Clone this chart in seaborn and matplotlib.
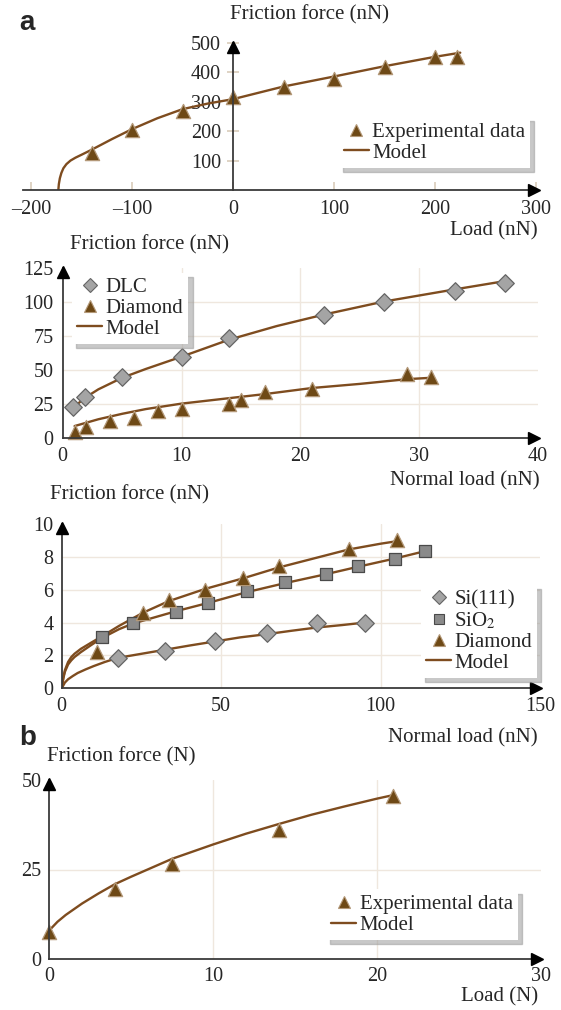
import numpy as np
import pandas as pd
import matplotlib
matplotlib.use("Agg")
import matplotlib.pyplot as plt
import matplotlib.transforms as mtransforms
from matplotlib.lines import Line2D
import seaborn as sns

# ---------------- data ----------------
# Panel a-1 : friction vs load (nN), experimental + model
a1_load = [-140, -100, -50, 0, 50, 100, 150, 200, 222]
a1_fric = [125, 205, 270, 315, 350, 377, 417, 451, 451]
a1_model_load = [-173, -172.5, -171.5, -170, -168, -165, -161, -156, -150, -140, -120, -100, -75, -50, -25, 0, 50, 100, 150, 200, 225]
a1_model_fric = [0, 20, 40, 58, 74, 88, 100, 110, 120, 137, 173, 207, 244, 275, 294, 309, 352, 386, 421, 453, 467]

# Panel a-2 : DLC / Diamond
a2_dlc_load = [0.9, 1.9, 5, 10, 14, 22, 27, 33, 37.2]
a2_dlc_fric = [23, 30, 45, 60, 74, 91, 100, 108, 114]
a2_dia_load = [1, 2, 4, 6, 8, 10, 14, 15, 17, 21, 29, 31]
a2_dia_fric = [4.5, 8, 13, 15, 20, 21.5, 25, 28.5, 34, 36, 47, 45]
a2_dlc_model_load = [1, 2, 3, 5, 7, 10, 14, 18, 22, 27, 33, 37.5]
a2_dlc_model_fric = [23.5, 30.5, 36, 44.5, 51, 60, 72.5, 82.5, 91, 100.5, 109.5, 116]
a2_dia_model_load = [1, 2, 3, 5, 7, 10, 13, 15, 17, 21, 25, 29, 31]
a2_dia_model_fric = [9, 11.5, 14, 18, 21.5, 25.5, 28.5, 30.5, 32.5, 37, 40, 43.5, 44.5]

# Panel a-3 : Si(111) / SiO2 / Diamond
a3_si_load = [17.5, 32.5, 48, 64.5, 80, 95]
a3_si_fric = [1.85, 2.3, 2.9, 3.35, 4.0, 4.0]
a3_sio2_load = [12.5, 22.5, 36, 46, 58, 70, 83, 93, 104.5, 114]
a3_sio2_fric = [3.15, 3.95, 4.65, 5.2, 5.9, 6.45, 6.95, 7.45, 7.9, 8.35]
a3_dia_load = [11, 25.5, 33.5, 45, 57, 68, 90, 105]
a3_dia_fric = [2.2, 4.6, 5.4, 6.0, 6.7, 7.45, 8.45, 9.0]
a3_si_model_load = [0, 1, 2, 3.5, 5, 7.5, 10, 13.5, 17.5, 25, 32.5, 40, 48, 56, 64.5, 72, 80, 88, 95]
a3_si_model_fric = [0, 0.35, 0.55, 0.75, 0.93, 1.15, 1.35, 1.6, 1.85, 2.1, 2.35, 2.6, 2.85, 3.1, 3.3, 3.5, 3.7, 3.85, 4.0]
a3_sio2_model_load = [0, 0.5, 1, 2, 3, 4, 6, 9, 12.5, 18, 22.5, 36, 46, 58, 70, 83, 93, 104.5, 114]
a3_sio2_model_fric = [0, 0.6, 1.0, 1.45, 1.7, 1.9, 2.2, 2.6, 3.05, 3.6, 3.95, 4.7, 5.2, 5.85, 6.4, 6.95, 7.4, 7.9, 8.35]
a3_dia_model_load = [0, 0.5, 1, 2, 3, 4, 6, 9, 12.5, 18, 25.5, 33.5, 45, 57, 68, 80, 90, 100, 105]
a3_dia_model_fric = [0, 0.65, 1.1, 1.6, 1.9, 2.1, 2.4, 2.75, 3.15, 3.8, 4.6, 5.3, 6.05, 6.7, 7.35, 7.95, 8.45, 8.8, 8.95]

# Panel b : macroscale friction (N)
b_load = [0, 4, 7.5, 14, 21]
b_fric = [7.5, 19.5, 26.5, 36, 45.5]
b_model_load = [0, 0.5, 1, 2, 3, 4, 5, 6, 7.5, 10, 12, 14, 16, 18, 20, 21]
b_model_fric = [8, 10.4, 12.3, 15.5, 18.3, 20.9, 23, 25, 28, 32, 35, 37.7, 40.3, 42.6, 44.8, 45.8]

# ticks
a1_xticks = [-200, -100, 0, 100, 200, 300]
a1_xticklabels = ["\u2013200", "\u2013100", "0", "100", "200", "300"]
a1_yticks = [100, 200, 300, 400, 500]
a2_xticks = [0, 10, 20, 30, 40]
a2_yticks = [0, 25, 50, 75, 100, 125]
a3_xticks = [0, 50, 100, 150]
a3_yticks = [0, 2, 4, 6, 8, 10]
b_xticks = [0, 10, 20, 30]
b_yticks = [0, 25, 50]

# ---------------- style ----------------
sns.set_theme(style="white")
plt.rcParams["font.family"] = ["Liberation Serif", "DejaVu Serif"]
plt.rcParams["mathtext.fontset"] = "stix"

LINE_C = "#7e4c1f"
TRI_FACE = "#6e4916"
TRI_EDGE = "#b39878"
DIA_FACE = "#a4a4a4"
DIA_EDGE = "#656565"
SQ_FACE = "#8a8a8a"
SQ_EDGE = "#4a4a4a"
AX_C = "#3a3a3a"
GRID_C = "#efe7de"
TICKMARK_C = "#d9ccba"
FS = 15
TFS = 14.5

W, H = 561, 1010
fig = plt.figure(figsize=(W / 100, H / 100), dpi=100)
fig.patch.set_facecolor("white")


def px_axes(x0, x1, y_top, y_bot):
    return fig.add_axes([x0 / W, 1 - y_bot / H, (x1 - x0) / W, (y_bot - y_top) / H])


def ftext(x, y, s, ha="left", **kw):
    fig.text(x / W, 1 - y / H, s, ha=ha, va="center", fontsize=FS, **kw)


def arrows(ax, x0, y0):
    ty = mtransforms.offset_copy(ax.get_xaxis_transform(), fig=fig, x=0, y=-4, units="dots")
    ax.plot([x0], [1], marker="^", color="black", markersize=8, transform=ty, clip_on=False, zorder=6)
    tx = mtransforms.offset_copy(ax.get_yaxis_transform(), fig=fig, x=-4, y=0, units="dots")
    ax.plot([1], [y0], marker=">", color="black", markersize=8, transform=tx, clip_on=False, zorder=6)


def base_style(ax):
    ax.set_facecolor("none")
    for s in ["top", "right"]:
        ax.spines[s].set_visible(False)
    for s in ["left", "bottom"]:
        ax.spines[s].set_color(AX_C)
        ax.spines[s].set_linewidth(1.3)
        ax.spines[s].set_zorder(5)
    ax.set_xlabel("")
    ax.set_ylabel("")


def grid_lines(ax, xticks, yticks):
    for x in xticks[1:-1]:
        ax.axvline(x, color=GRID_C, lw=1.0, zorder=0)
    for y in yticks[1:-1]:
        ax.axhline(y, color=GRID_C, lw=1.0, zorder=0)


def model(ax, x, y):
    sns.lineplot(x=x, y=y, ax=ax, color=LINE_C, linewidth=1.7, estimator=None,
                 sort=False, legend=False, zorder=2)


def points(ax, x, y, kind):
    if kind == "tri":
        kw = dict(marker="^", s=105, color=TRI_FACE, edgecolor=TRI_EDGE, linewidth=0.9)
    elif kind == "dia":
        kw = dict(marker="D", s=80, color=DIA_FACE, edgecolor=DIA_EDGE, linewidth=0.9)
    else:
        kw = dict(marker="s", s=70, color=SQ_FACE, edgecolor=SQ_EDGE, linewidth=0.9)
    sns.scatterplot(x=x, y=y, ax=ax, legend=False, zorder=3, clip_on=False, **kw)


def handle(kind):
    if kind == "tri":
        return Line2D([], [], ls="none", marker="^", markersize=8, markerfacecolor=TRI_FACE,
                      markeredgecolor=TRI_EDGE, markeredgewidth=0.8)
    if kind == "dia":
        return Line2D([], [], ls="none", marker="D", markersize=7, markerfacecolor=DIA_FACE,
                      markeredgecolor=DIA_EDGE, markeredgewidth=0.8)
    if kind == "sq":
        return Line2D([], [], ls="none", marker="s", markersize=6.5, markerfacecolor=SQ_FACE,
                      markeredgecolor=SQ_EDGE, markeredgewidth=0.8)
    return Line2D([], [], color=LINE_C, lw=1.7)


def legend(ax, kinds, labels, loc, anchor):
    leg = ax.legend([handle(k) for k in kinds], labels, loc=loc, bbox_to_anchor=anchor,
                    frameon=True, fancybox=False,
                    shadow={"ox": 3, "oy": -3, "color": "#9c9c9c", "alpha": 0.55},
                    fontsize=FS, handlelength=1.2, handletextpad=0.15, labelspacing=0.05,
                    borderpad=0.25, borderaxespad=0)
    fr = leg.get_frame()
    fr.set_facecolor("white")
    fr.set_edgecolor("none")
    leg.set_zorder(10)
    return leg


# ---------------- panel a-1 ----------------
ax1 = px_axes(23, 538, 43, 190)
model(ax1, a1_model_load, a1_model_fric)
points(ax1, a1_load, a1_fric, "tri")
base_style(ax1)
ax1.set_xlim(-208, 302)
ax1.set_ylim(0, 500)
ax1.spines["left"].set_position(("data", 0))
ax1.spines["bottom"].set_position(("data", 0))
ax1.set_xticks(a1_xticks)
ax1.set_xticklabels(a1_xticklabels)
ax1.set_yticks(a1_yticks)
ax1.set_yticklabels([str(v) for v in a1_yticks])
ax1.tick_params(axis="x", direction="in", length=6, width=1.2, color=TICKMARK_C,
                labelsize=TFS, pad=7, bottom=True)
ax1.tick_params(axis="y", direction="inout", length=9, width=1.2, color=TICKMARK_C,
                labelsize=TFS, pad=4, left=True)
arrows(ax1, 0, 0)
legend(ax1, ["tri", "line"], ["Experimental data", "Model"], "lower right", (0.985, 0.15))

# ---------------- panel a-2 ----------------
ax2 = px_axes(62.7, 538, 268.3, 438.3)
grid_lines(ax2, a2_xticks, a2_yticks)
model(ax2, a2_dlc_model_load, a2_dlc_model_fric)
model(ax2, a2_dia_model_load, a2_dia_model_fric)
points(ax2, a2_dlc_load, a2_dlc_fric, "dia")
points(ax2, a2_dia_load, a2_dia_fric, "tri")
base_style(ax2)
ax2.set_xlim(0, 40)
ax2.set_ylim(0, 125)
ax2.set_xticks(a2_xticks)
ax2.set_yticks(a2_yticks)
ax2.tick_params(length=0, labelsize=TFS, pad=6.5)
arrows(ax2, 0, 0)
legend(ax2, ["dia", "tri", "line"], ["DLC", "Diamond", "Model"], "upper left", (0.02, 0.975))

# ---------------- panel a-3 ----------------
ax3 = px_axes(61.7, 540, 524, 688.3)
grid_lines(ax3, a3_xticks, a3_yticks)
model(ax3, a3_si_model_load, a3_si_model_fric)
model(ax3, a3_sio2_model_load, a3_sio2_model_fric)
model(ax3, a3_dia_model_load, a3_dia_model_fric)
points(ax3, a3_si_load, a3_si_fric, "dia")
points(ax3, a3_sio2_load, a3_sio2_fric, "sq")
points(ax3, a3_dia_load, a3_dia_fric, "tri")
base_style(ax3)
ax3.set_xlim(0, 150)
ax3.set_ylim(0, 10)
ax3.set_xticks(a3_xticks)
ax3.set_yticks(a3_yticks)
ax3.tick_params(length=0, labelsize=TFS, pad=6)
arrows(ax3, 0, 0)
legend(ax3, ["dia", "sq", "tri", "line"], ["Si(111)", "SiO$_2$", "Diamond", "Model"],
       "lower right", (0.994, 0.063))

# ---------------- panel b ----------------
ax4 = px_axes(49.3, 541, 780, 959)
grid_lines(ax4, b_xticks, b_yticks)
model(ax4, b_model_load, b_model_fric)
points(ax4, b_load, b_fric, "tri")
base_style(ax4)
ax4.set_xlim(0, 30)
ax4.set_ylim(0, 50)
ax4.set_xticks(b_xticks)
ax4.set_yticks(b_yticks)
ax4.tick_params(length=0, labelsize=TFS, pad=5.5)
arrows(ax4, 0, 0)
legend(ax4, ["tri", "line"], ["Experimental data", "Model"], "lower right", (0.953, 0.106))

# ---------------- texts ----------------
fig.text(27 / W, 1 - 23 / H, "a", ha="center", va="center", fontsize=20, fontweight="bold",
         family=["Liberation Sans", "DejaVu Sans"])
fig.text(28 / W, 1 - 738 / H, "b", ha="center", va="center", fontsize=20, fontweight="bold",
         family=["Liberation Sans", "DejaVu Sans"])
ftext(309, 15, "Friction force (nN)", ha="center")
ftext(538, 231, "Load (nN)", ha="right")
ftext(70, 245, "Friction force (nN)")
ftext(540, 481, "Normal load (nN)", ha="right")
ftext(50, 495, "Friction force (nN)")
ftext(538, 738, "Normal load (nN)", ha="right")
ftext(47, 757, "Friction force (N)")
ftext(538, 997, "Load (N)", ha="right")

fig.savefig("out.png", dpi=100, facecolor="white")
